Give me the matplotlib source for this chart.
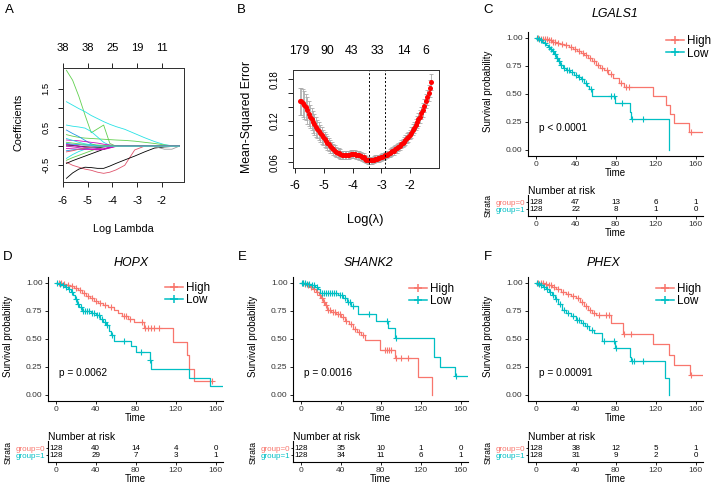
import numpy as np
import matplotlib.pyplot as plt
from matplotlib.lines import Line2D

plt.rcParams['font.family'] = ['Liberation Sans', 'DejaVu Sans']
plt.rcParams['axes.unicode_minus'] = False

W, H = 715, 487
fig = plt.figure(figsize=(W / 100, H / 100), dpi=100)

RED = '#F8766D'
CYAN = '#00BFC4'

# ---------------- panel A: lasso coefficient paths ----------------
lam_grid = [-5.85, -5.6, -5.35, -5.1, -4.85, -4.6, -4.35, -4.1, -3.85, -3.5, -3.1, -2.7, -2.3, -1.9, -1.6, -1.3]
coef_green_a = [1.98, 1.72, 1.30, 0.81, 0.35, 0.45, 0.55, 0.07, 0, 0, 0, 0, 0, 0, 0, 0]
coef_cyan_a = [1.16, 1.07, 0.98, 0.90, 0.80, 0.72, 0.64, 0.57, 0.51, 0.44, 0.33, 0.22, 0.12, 0.04, 0.01, 0]
coef_green_b = [0.30, 0.26, 0.23, 0.21, 0.20, 0.19, 0.18, 0.17, 0.16, 0.15, 0.13, 0.10, 0.07, 0.03, 0.01, 0]
coef_cyan_b = [0.55, 0.52, 0.50, 0.47, 0.38, 0.24, 0.10, 0.02, 0, 0, 0, 0, 0, 0, 0, 0]
coef_blue_a = [0.42, 0.33, 0.25, 0.15, 0.06, 0.01, 0, 0, 0, 0, 0, 0, 0, 0, 0, 0]
coef_magenta_a = [0.16, 0.15, 0.14, 0.12, 0.10, 0.08, 0.05, 0.03, 0.01, 0, 0, 0, 0, 0, 0, 0]
coef_red_a = [-0.42, -0.50, -0.55, -0.60, -0.63, -0.68, -0.71, -0.68, -0.62, -0.50, -0.10, 0, 0, 0, 0, 0]
coef_black_a = [-0.84, -0.70, -0.60, -0.55, -0.56, -0.58, -0.58, -0.52, -0.45, -0.36, -0.26, -0.15, -0.05, -0.02, -0.01, 0]
coef_gray_a = [0, 0, 0, 0, 0, 0, 0, 0, 0, 0, 0, 0, -0.01, -0.08, -0.08, 0]
coef_black_b = [-0.45, -0.38, -0.32, -0.26, -0.20, -0.14, -0.08, -0.03, 0, 0, 0, 0, 0, 0, 0, 0]
coef_cyan_c = [-0.32, -0.22, -0.14, -0.08, -0.03, 0, 0, 0, 0, 0, 0, 0, 0, 0, 0, 0]
coef_green_c = [-0.37, -0.30, -0.24, -0.18, -0.12, -0.06, -0.01, 0, 0, 0, 0, 0, 0, 0, 0, 0]
coef_black_c = [0.03, 0.02, 0.0, -0.02, -0.03, -0.03, -0.02, -0.01, 0, 0, 0, 0, 0, 0, 0, 0]
coef_magenta_b = [-0.06, -0.07, -0.08, -0.09, -0.09, -0.09, -0.09, -0.05, 0, 0, 0, 0, 0, 0, 0, 0]
coef_magenta_c = [0.05, 0.03, 0.0, -0.03, -0.05, -0.06, -0.07, -0.04, -0.01, 0, 0, 0, 0, 0, 0, 0]
coef_magenta_d = [0.0, -0.02, -0.04, -0.06, -0.08, -0.10, -0.08, -0.02, 0, 0, 0, 0, 0, 0, 0, 0]
coef_blue_b = [0.07, 0.05, 0.04, 0.03, 0.02, 0.01, 0, 0, 0, 0, 0, 0, 0, 0, 0, 0]
coef_blue_c = [-0.12, -0.10, -0.08, -0.06, -0.04, -0.02, 0, 0, 0, 0, 0, 0, 0, 0, 0, 0]
coef_green_d = [0.10, 0.08, 0.06, 0.05, 0.04, 0.03, 0.02, 0.01, 0, 0, 0, 0, 0, 0, 0, 0]
coef_red_b = [-0.15, -0.12, -0.08, -0.05, -0.03, -0.01, 0, 0, 0, 0, 0, 0, 0, 0, 0, 0]
coef_cyan_d = [0.20, 0.15, 0.10, 0.06, 0.03, 0, 0, 0, 0, 0, 0, 0, 0, 0, 0, 0]
top_a_labels = ['38', '38', '25', '19', '11']

# ---------------- panel B: cross-validation curve ----------------
cv_log_lambda = [-5.82, -5.77, -5.72, -5.67, -5.62, -5.57, -5.52, -5.47, -5.42, -5.37,
                 -5.32, -5.27, -5.22, -5.17, -5.12, -5.07, -5.02, -4.97, -4.92, -4.87,
                 -4.82, -4.77, -4.72, -4.67, -4.62, -4.57, -4.52, -4.47, -4.42, -4.37,
                 -4.32, -4.27, -4.22, -4.17, -4.12, -4.07, -4.02, -3.97, -3.92, -3.87,
                 -3.82, -3.77, -3.72, -3.67, -3.62, -3.57, -3.52, -3.47, -3.42, -3.37,
                 -3.32, -3.27, -3.22, -3.17, -3.12, -3.07, -3.02, -2.97, -2.92, -2.87,
                 -2.82, -2.77, -2.72, -2.67, -2.62, -2.57, -2.52, -2.47, -2.42, -2.37,
                 -2.32, -2.27, -2.22, -2.17, -2.12, -2.07, -2.02, -1.97, -1.92, -1.87,
                 -1.82, -1.77, -1.72, -1.67, -1.62, -1.57, -1.52, -1.47, -1.42, -1.37,
                 -1.32, -1.27]
cv_mse = [0.148, 0.148, 0.146, 0.143, 0.140, 0.135, 0.130, 0.126, 0.122, 0.118,
          0.115, 0.111, 0.108, 0.105, 0.102, 0.099, 0.096, 0.093, 0.091, 0.088,
          0.086, 0.083, 0.081, 0.079, 0.077, 0.075, 0.074, 0.073, 0.072, 0.071,
          0.071, 0.071, 0.071, 0.071, 0.071, 0.072, 0.072, 0.072, 0.072, 0.071,
          0.071, 0.070, 0.069, 0.068, 0.067, 0.065, 0.064, 0.063, 0.063, 0.063,
          0.063, 0.064, 0.065, 0.065, 0.066, 0.066, 0.067, 0.068, 0.069, 0.070,
          0.071, 0.072, 0.073, 0.075, 0.076, 0.077, 0.079, 0.080, 0.082, 0.084,
          0.086, 0.088, 0.090, 0.092, 0.095, 0.097, 0.100, 0.103, 0.107, 0.110,
          0.114, 0.118, 0.122, 0.126, 0.131, 0.136, 0.142, 0.148, 0.154, 0.160,
          0.167, 0.176]
cv_sd = [0.020, 0.020, 0.020, 0.020, 0.019, 0.019, 0.018, 0.017, 0.016, 0.016,
         0.015, 0.014, 0.013, 0.013, 0.012, 0.012, 0.011, 0.011, 0.010, 0.010,
         0.009, 0.009, 0.008, 0.008, 0.008, 0.007, 0.007, 0.007, 0.007, 0.006,
         0.006, 0.006, 0.006, 0.006, 0.006, 0.006, 0.006, 0.006, 0.006, 0.006,
         0.006, 0.006, 0.006, 0.006, 0.006, 0.005, 0.005, 0.005, 0.005, 0.005,
         0.005, 0.005, 0.005, 0.005, 0.005, 0.005, 0.005, 0.005, 0.005, 0.005,
         0.005, 0.005, 0.006, 0.006, 0.006, 0.006, 0.006, 0.006, 0.006, 0.006,
         0.006, 0.006, 0.007, 0.007, 0.007, 0.007, 0.007, 0.008, 0.008, 0.008,
         0.008, 0.009, 0.009, 0.009, 0.009, 0.010, 0.010, 0.010, 0.011, 0.011,
         0.012, 0.012]
lambda_min, lambda_1se = -3.43, -2.865
top_b_pos = [-5.85, -4.89, -4.02, -3.13, -2.22, -1.46]
top_b_labels = ['179', '90', '43', '33', '14', '6']

# ---------------- Kaplan-Meier curves (event times, survival after event, censor times, end) ----------------
c_high_t = [3, 8, 12, 16, 20, 24, 28, 33, 37, 41, 45, 48, 52, 56, 60, 64, 68, 72, 77, 83, 88, 117, 130, 134, 138, 153]
c_high_s = [0.99, 0.985, 0.975, 0.965, 0.955, 0.94, 0.93, 0.915, 0.90, 0.88, 0.86, 0.845, 0.82, 0.79, 0.76,
            0.73, 0.71, 0.68, 0.64, 0.60, 0.56, 0.48, 0.40, 0.32, 0.24, 0.16]
c_high_c = [2, 5, 7, 9, 11, 13, 15, 17, 19, 22, 26, 30, 35, 39, 43, 47, 50, 54, 58, 62, 66, 71, 75, 85, 90, 93, 155]
c_low_t = [2, 4, 6, 8, 10, 12, 14, 16, 18, 20, 22, 24, 27, 30, 34, 38, 42, 45, 48, 51, 53, 56, 79, 94, 95, 133]
c_low_s = [0.99, 0.98, 0.965, 0.95, 0.935, 0.92, 0.90, 0.88, 0.85, 0.82, 0.79, 0.76, 0.73, 0.71, 0.69, 0.67,
           0.65, 0.63, 0.60, 0.57, 0.54, 0.48, 0.42, 0.34, 0.28, 0.0]
c_low_c = [1, 3, 5, 9, 13, 15, 17, 19, 21, 23, 25, 28, 31, 33, 36, 40, 43, 46, 50, 55, 75, 78, 86, 96, 107]

d_high_t = [6, 10, 14, 18, 22, 26, 30, 34, 38, 42, 47, 52, 58, 62, 66, 72, 78, 88, 117, 131, 133, 138]
d_high_s = [0.99, 0.98, 0.97, 0.95, 0.93, 0.91, 0.88, 0.86, 0.84, 0.82, 0.80, 0.78, 0.76, 0.73, 0.70, 0.68,
            0.65, 0.60, 0.47, 0.36, 0.23, 0.12]
d_high_c = [3, 5, 8, 12, 16, 20, 24, 28, 32, 36, 40, 44, 49, 55, 68, 70, 74, 86, 89, 92, 95, 98, 103, 156]
d_low_t = [3, 6, 9, 12, 15, 17, 19, 21, 23, 26, 35, 40, 44, 47, 50, 53, 55, 58, 75, 80, 94, 95, 133, 154]
d_low_s = [0.99, 0.98, 0.96, 0.94, 0.92, 0.89, 0.85, 0.81, 0.78, 0.75, 0.73, 0.71, 0.68, 0.65, 0.62, 0.57,
           0.53, 0.48, 0.44, 0.38, 0.31, 0.23, 0.15, 0.08]
d_low_c = [1, 4, 7, 10, 13, 16, 20, 22, 25, 27, 29, 31, 33, 36, 38, 41, 43, 46, 49, 51, 56, 68, 85, 94.5]

e_high_t = [3, 6, 9, 12, 15, 18, 20, 22, 24, 26, 30, 35, 40, 44, 48, 52, 56, 60, 64, 79, 94, 117, 131]
e_high_s = [0.99, 0.98, 0.96, 0.94, 0.92, 0.89, 0.86, 0.83, 0.80, 0.76, 0.74, 0.72, 0.69, 0.66, 0.63, 0.59,
            0.56, 0.53, 0.49, 0.40, 0.33, 0.16, 0.0]
e_high_c = [2, 4, 7, 10, 13, 16, 19, 21, 23, 25, 27, 29, 32, 34, 37, 39, 42, 45, 50, 54, 58, 62, 84, 86, 88, 90, 95, 100, 107]
e_low_t = [5, 10, 14, 17, 19, 37, 42, 46, 50, 57, 75, 87, 94, 133, 139, 154]
e_low_s = [0.99, 0.98, 0.96, 0.94, 0.91, 0.89, 0.86, 0.83, 0.79, 0.72, 0.66, 0.60, 0.51, 0.34, 0.25, 0.17]
e_low_c = [1, 2, 4, 6, 8, 11, 13, 16, 21, 23, 25, 27, 29, 31, 33, 35, 39, 41, 44, 47, 49, 52, 68, 86, 95, 155]

f_high_t = [8, 12, 16, 20, 25, 30, 35, 40, 44, 48, 52, 56, 60, 75, 87, 117, 133, 138, 154]
f_high_s = [0.99, 0.98, 0.96, 0.94, 0.92, 0.90, 0.88, 0.86, 0.83, 0.79, 0.76, 0.73, 0.71, 0.64, 0.54, 0.45,
            0.36, 0.27, 0.18]
f_high_c = [2, 5, 7, 10, 13, 15, 18, 22, 27, 32, 37, 42, 46, 50, 54, 58, 63, 70, 73, 88, 95, 155]
f_low_t = [2, 4, 7, 10, 13, 16, 19, 22, 26, 30, 35, 40, 45, 49, 53, 58, 66, 79, 94, 95, 129, 133]
f_low_s = [0.99, 0.98, 0.96, 0.94, 0.92, 0.89, 0.85, 0.81, 0.76, 0.73, 0.70, 0.67, 0.64, 0.61, 0.58, 0.55,
           0.48, 0.42, 0.34, 0.30, 0.15, 0.0]
f_low_c = [1, 3, 5, 8, 11, 14, 17, 20, 24, 28, 32, 37, 41, 43, 47, 51, 56, 68, 78, 80, 96, 98, 107]

risk_times = [0, 40, 80, 120, 160]
c_risk = ([128, 47, 13, 6, 1], [128, 22, 8, 1, 0])
d_risk = ([128, 40, 14, 4, 0], [128, 29, 7, 3, 1])
e_risk = ([128, 35, 10, 1, 0], [128, 34, 11, 6, 1])
f_risk = ([128, 38, 12, 5, 1], [128, 31, 9, 2, 0])


def px_axes(l, t, r, b):
    return fig.add_axes([l / W, 1 - b / H, (r - l) / W, (b - t) / H])


def ftext(x, y, s, **kw):
    kw.setdefault('ha', 'center')
    kw.setdefault('va', 'center')
    fig.text(x / W, 1 - y / H, s, **kw)


def r_box(ax):
    for sp in ax.spines.values():
        sp.set_color('#333333')
        sp.set_linewidth(0.7)


# ---------- A ----------
axA = px_axes(62.7, 68, 184.3, 182.3)
a_paths = [coef_green_a, coef_cyan_a, coef_green_b, coef_cyan_b, coef_blue_a, coef_magenta_a, coef_red_a,
           coef_black_a, coef_gray_a, coef_black_b, coef_cyan_c, coef_green_c, coef_black_c, coef_magenta_b,
           coef_magenta_c, coef_magenta_d, coef_blue_b, coef_blue_c, coef_green_d, coef_red_b, coef_cyan_d]
a_cols = ['#61D04F', '#28E2E5', '#61D04F', '#28E2E5', '#2297E6', '#CD0BBC', '#DF536B',
          'black', '#9E9E9E', 'black', '#28E2E5', '#61D04F', 'black', '#CD0BBC',
          '#CD0BBC', '#CD0BBC', '#2297E6', '#2297E6', '#61D04F', '#DF536B', '#28E2E5']
for ys, c in zip(a_paths, a_cols):
    axA.plot(lam_grid, ys, color=c, lw=0.6)
axA.set_xlim(-6.0, -1.1)
axA.set_ylim(-0.944, 2.04)
axA.set_xticks([-6, -5, -4, -3, -2])
axA.set_yticks([-0.5, 0, 0.5, 1.0, 1.5])
axA.set_yticklabels(['-0.5', '', '0.5', '', '1.5'], rotation=90, va='center')
axA.tick_params(axis='x', direction='out', length=3.6, width=0.6, labelsize=8, pad=6)
axA.tick_params(axis='y', direction='out', length=3.6, width=0.6, labelsize=6.8, pad=5)
r_box(axA)
topA = axA.twiny()
topA.set_xlim(axA.get_xlim())
topA.set_xticks([-6, -5, -4, -3, -2])
topA.set_xticklabels(top_a_labels)
topA.tick_params(direction='out', length=3.6, width=0.6, labelsize=8, pad=7)
r_box(topA)
ftext(18, 122, 'Coefficients', rotation=90, size=7.8)
ftext(123.3, 229, 'Log Lambda', size=7.8)
ftext(9, 10, 'A', size=9.5)

# ---------- B ----------
axB = px_axes(293, 70, 438.7, 168.3)
axB.errorbar(cv_log_lambda, cv_mse, yerr=cv_sd, fmt='none', ecolor='#A9A9A9', elinewidth=0.6,
             capsize=1.3, capthick=0.6)
axB.plot(cv_log_lambda, cv_mse, 'o', color='red', markersize=3.6, markeredgewidth=0)
axB.axvline(lambda_min, color='black', lw=0.7, ls=(0, (2, 2)))
axB.axvline(lambda_1se, color='black', lw=0.7, ls=(0, (2, 2)))
axB.set_xlim(-6.06, -1.02)
axB.set_ylim(0.0513, 0.1934)
axB.set_xticks([-6, -5, -4, -3, -2])
axB.set_yticks([0.06, 0.08, 0.10, 0.12, 0.14, 0.16, 0.18])
axB.set_yticklabels(['0.06', '', '', '0.12', '', '', '0.18'], rotation=90, va='center')
axB.tick_params(axis='x', direction='out', length=3.6, width=0.6, labelsize=8.8, pad=5)
axB.tick_params(axis='y', direction='out', length=3.6, width=0.6, labelsize=7, pad=6)
r_box(axB)
topB = axB.twiny()
topB.set_xlim(axB.get_xlim())
topB.set_xticks(top_b_pos)
topB.set_xticklabels(top_b_labels)
topB.tick_params(length=0, labelsize=8.8, pad=9)
r_box(topB)
ftext(246.7, 117, 'Mean-Squared Error', rotation=90, size=8.8)
ftext(365, 220, 'Log(λ)', size=9.3)
ftext(241, 10, 'B', size=9.5)


# ---------- KM panels ----------
def km_line(ax, t, s, cens, end, color):
    xs = [0] + list(t) + [end]
    ys = [1.0] + list(s) + [s[-1]]
    ax.step(xs, ys, where='post', color=color, lw=0.9)
    idx = np.searchsorted(np.array(t), np.array(cens), side='right')
    sv = np.array([1.0] + list(s))[idx]
    ax.plot(cens, sv, '+', color=color, markersize=4.5, markeredgewidth=0.8)


def km_panel(x0, dy, dyt, letter, letter_x, title, title_x, title_y, ylab_x, leg_xy,
             high, low, ptxt, risk):
    ax = px_axes(x0 - 7.3, 32 + dy, x0 + 167.3, 155.6 + dy)
    km_line(ax, *high, RED)
    km_line(ax, *low, CYAN)
    ax.set_xlim(-7.3, 167.3)
    ax.set_ylim(-0.05, 1.05)
    ax.set_xticks(risk_times)
    ax.set_yticks([0, 0.25, 0.5, 0.75, 1.0])
    ax.set_yticklabels(['0.00', '0.25', '0.50', '0.75', '1.00'])
    for k in ['top', 'right']:
        ax.spines[k].set_visible(False)
    for k in ['left', 'bottom']:
        ax.spines[k].set_linewidth(0.8)
    ax.tick_params(direction='out', length=2.2, width=0.6, labelsize=6, pad=2, labelcolor='#333333')
    ax.text(3, 0.2, ptxt, fontsize=7.3, va='center', ha='left')
    handles = [Line2D([], [], color=RED, lw=1.1, marker='+', markersize=6, markeredgewidth=1.1),
               Line2D([], [], color=CYAN, lw=1.1, marker='+', markersize=6, markeredgewidth=1.1)]
    ax.legend(handles, ['High', 'Low'], loc='upper left', bbox_to_anchor=(leg_xy[0] / W, 1 - leg_xy[1] / H),
              bbox_transform=fig.transFigure, frameon=False, borderpad=0, borderaxespad=0,
              handlelength=1.5, handletextpad=0.3, labelspacing=0.05, fontsize=8.4)
    ftext(title_x, title_y, title, size=8.9, style='italic')
    ftext(ylab_x, 91.7 + dy, 'Survival probability', rotation=90, size=7)
    ftext(x0 + 79.3, 173.3 + dy, 'Time', size=7)
    ftext(letter_x, 10 + dy + (2 if dy else 0), letter, size=9.5)

    # risk table
    rt = px_axes(x0 - 7.3, 195.5 + dyt, x0 + 167.3, 215.7 + dyt)
    rt.set_xlim(-7.3, 167.3)
    rt.set_ylim(-0.914, 1.97)
    for k in ['top', 'right']:
        rt.spines[k].set_visible(False)
    for k in ['left', 'bottom']:
        rt.spines[k].set_linewidth(0.8)
    for row, vals in zip([1, 0], risk):
        for tx, v in zip(risk_times, vals):
            rt.text(tx, row, str(v), ha='center', va='center', fontsize=5.8)
    rt.set_xticks(risk_times)
    rt.set_yticks([1, 0])
    rt.set_yticklabels(['group=0', 'group=1'])
    for lab, c in zip(rt.get_yticklabels(), [RED, CYAN]):
        lab.set_color(c)
    rt.tick_params(axis='y', direction='out', length=1.5, width=0.6, labelsize=5.8, pad=1)
    rt.tick_params(axis='x', direction='out', length=2.2, width=0.6, labelsize=6, pad=1.5,
                   labelcolor='#333333')
    ftext(x0 - 7.3, 190.7 + dyt, 'Number at risk', size=7.4, ha='left')
    ftext(ylab_x, 206 + dyt, 'Strata', rotation=90, size=6.2)
    ftext(x0 + 79.3, 233.3 + dyt, 'Time', size=7)


km_panel(535.7, 0, 0, 'C', 488, 'LGALS1', 615, 14, 488.3, (666, 35),
         (c_high_t, c_high_s, c_high_c, 167.3), (c_low_t, c_low_s, c_low_c, 133), 'p < 0.0001', c_risk)
km_panel(55.7, 245, 246, 'D', 8, 'HOPX', 131, 263, 8.3, (165, 281.6),
         (d_high_t, d_high_s, d_high_c, 156), (d_low_t, d_low_s, d_low_c, 167.3), 'p = 0.0062', d_risk)
km_panel(300.7, 245, 246, 'E', 242, 'SHANK2', 368.5, 263, 253.3, (409, 282.6),
         (e_high_t, e_high_s, e_high_c, 131), (e_low_t, e_low_s, e_low_c, 167.3), 'p = 0.0016', e_risk)
km_panel(535.7, 245, 246, 'F', 488, 'PHEX', 603.3, 263, 488.3, (656, 282.6),
         (f_high_t, f_high_s, f_high_c, 167.3), (f_low_t, f_low_s, f_low_c, 133), 'p = 0.00091', f_risk)

fig.savefig('out.png', dpi=100)
